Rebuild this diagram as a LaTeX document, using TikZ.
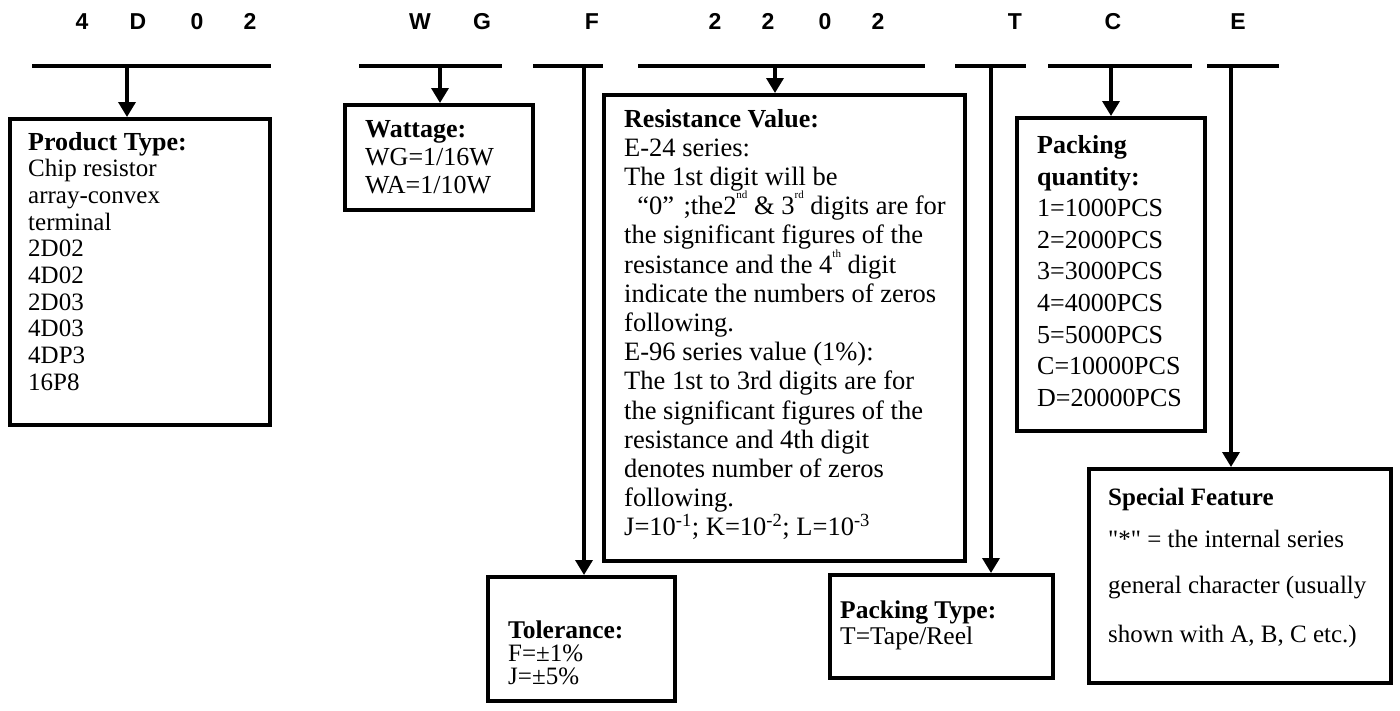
\documentclass[tikz,border=0pt]{standalone}
\usepackage{fontspec}
\setmainfont{Liberation Serif}
\newfontfamily\codefont{Liberation Sans}
\usetikzlibrary{arrows.meta}

\tikzset{
  bar/.style={line width=4pt},
  lead/.style={line width=3.5pt, -{Triangle[width=17pt, length=15pt]}},
  box/.style={draw, line width=4pt, anchor=north west, inner sep=0pt},
  txt/.style={anchor=base west, inner sep=0pt},
  code/.style={anchor=base, inner sep=0pt, font=\codefont\bfseries\fontsize{23}{23}\selectfont},
}

\begin{document}
\begin{tikzpicture}[x=1pt, y=-1pt, every node/.style={font=\fontsize{25.5}{26}\selectfont}]
  \useasboundingbox (0,0) rectangle (1400,710);
  % part number letters
  \foreach \c/\x [count=\i] in {4/82, D/138, 0/197, 2/250, W/420, G/482, F/592, 2/715, 2/768, 0/825, 2/878, T/1015, C/1113, E/1238}
    \node[code] (code-\i) at (\x,29) {\c};
  % bars under the groups
  \foreach \n/\a/\b in {1/32/271, 2/359/502, 3/533/603, 4/638/925, 5/955/1026, 6/1048/1192, 7/1207/1279}
    \draw[bar] (\a,66) coordinate (bar\n-w) -- (\b,66) coordinate (bar\n-e);

  % boxes
  \node[box, minimum width=260pt, minimum height=306pt] (prod) at (8,117) {};
  \node[box, minimum width=188pt, minimum height=105pt] (watt) at (343,103) {};
  \node[box, minimum width=361pt, minimum height=466pt] (resist) at (602,93) {};
  \node[box, minimum width=187pt, minimum height=124pt] (tol) at (486,575) {};
  \node[box, minimum width=223pt, minimum height=103pt] (ptype) at (828,573) {};
  \node[box, minimum width=188pt, minimum height=313pt] (pqty) at (1015,116) {};
  \node[box, minimum width=302pt, minimum height=214pt] (spec) at (1087,467) {};

  % leads from the bars
  \draw[lead] (127,66) coordinate (a1) -- (a1 |- prod.north);
  \draw[lead] (440,66) coordinate (a2) -- (a2 |- watt.north);
  \draw[lead] (584,66) coordinate (a3) -- (a3 |- tol.north);
  \draw[lead] (775,66) coordinate (a4) -- (a4 |- resist.north);
  \draw[lead] (991,66) coordinate (a5) -- (a5 |- ptype.north);
  \draw[lead] (1111,66) coordinate (a6) -- (a6 |- pqty.north);
  \draw[lead] (1231,66) coordinate (a7) -- (a7 |- spec.north);

  % product type
  \node[txt, font=\bfseries\fontsize{26}{26}\selectfont] (prod-t) at (28,150) {Product Type:};
  \foreach \t [count=\i] in {Chip resistor, array-convex, terminal, 2D02, 4D02, 2D03, 4D03, 4DP3, 16P8}
    \node[txt, font=\fontsize{25}{26}\selectfont] (prod-\i) at (28,150+26.7*\i) {\t};

  % wattage
  \node[txt, font=\bfseries\fontsize{26}{26}\selectfont] (watt-t) at (365,137) {Wattage:};
  \foreach \t [count=\i] in {WG=1/16W, WA=1/10W}
    \node[txt, font=\fontsize{26}{26}\selectfont] (watt-\i) at (365,137+28*\i) {\t};

  % resistance value
  \node[txt, font=\bfseries\fontsize{26}{26}\selectfont] (resist-t) at (624,127) {Resistance Value:};
  \foreach \t [count=\i] in {E-24 series:, The 1st digit will be,
      {\hspace{0.5em}“0”\hspace{0.35em};the2\raisebox{0.6em}{\fontsize{11}{11}\selectfont nd} \& 3\raisebox{0.6em}{\fontsize{11}{11}\selectfont rd} digits are for},
      the significant figures of the, {resistance and the 4\raisebox{0.6em}{\fontsize{11}{11}\selectfont th} digit},
      indicate the numbers of zeros, following., E-96 series value (1\%):,
      The 1st to 3rd digits are for, the significant figures of the,
      resistance and 4th digit, denotes number of zeros, following.,
      {J=10\textsuperscript{-1}; K=10\textsuperscript{-2}; L=10\textsuperscript{-3}}}
    \node[txt, font=\fontsize{26.5}{26}\selectfont] (resist-\i) at (624,127+29.2*\i) {\t};

  % tolerance
  \node[txt, font=\bfseries\fontsize{25.5}{26}\selectfont] (tol-t) at (508,638) {Tolerance:};
  \node[txt, font=\fontsize{25}{26}\selectfont] (tol-1) at (508,661) {F=±1\%};
  \node[txt, font=\fontsize{25}{26}\selectfont] (tol-2) at (508,684) {J=±5\%};

  % packing type
  \node[txt, font=\bfseries\fontsize{25.5}{26}\selectfont] (ptype-t) at (840,618) {Packing Type:};
  \node[txt] (ptype-1) at (840,644) {T=Tape/Reel};

  % packing quantity
  \node[txt, font=\bfseries\fontsize{26}{26}\selectfont] (pqty-t1) at (1037,153) {Packing};
  \node[txt, font=\bfseries\fontsize{26}{26}\selectfont] (pqty-t2) at (1037,185) {quantity:};
  \foreach \t [count=\i from 2] in {1=1000PCS, 2=2000PCS, 3=3000PCS, 4=4000PCS, 5=5000PCS, C=10000PCS, D=20000PCS}
    \node[txt, font=\fontsize{26}{26}\selectfont] (pqty-\i) at (1037,153+31.7*\i) {\t};

  % special feature
  \node[txt, font=\bfseries\fontsize{25}{26}\selectfont] (spec-t) at (1108,505) {Special Feature};
  \node[txt, font=\fontsize{25}{26}\selectfont] (spec-1) at (1108,547) {\textquotedbl*\textquotedbl{} = the internal series};
  \node[txt, font=\fontsize{25}{26}\selectfont] (spec-2) at (1108,593) {general character (usually};
  \node[txt, font=\fontsize{25}{26}\selectfont] (spec-3) at (1108,642) {shown with A, B, C etc.)};
\end{tikzpicture}
\end{document}
